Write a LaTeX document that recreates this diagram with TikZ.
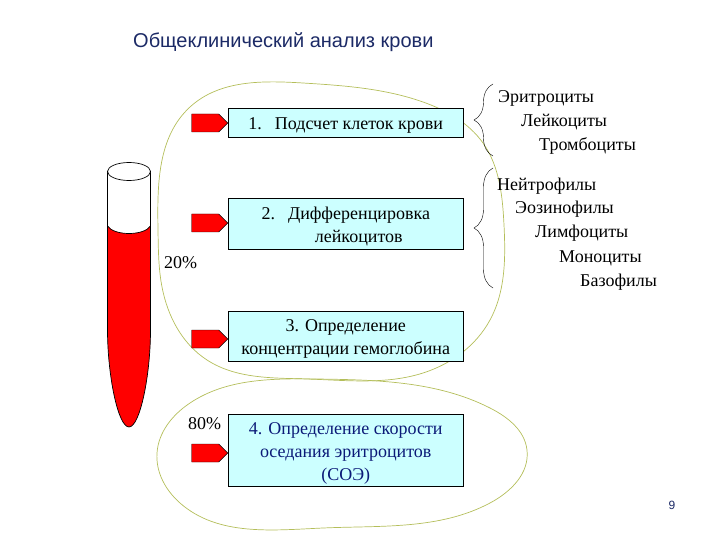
\documentclass[tikz,border=0pt]{standalone}
\usepackage{fontspec}
\setmainfont{Liberation Serif}
\newfontfamily\titlefont{Liberation Sans}
\usetikzlibrary{shapes.arrows,decorations.pathreplacing,hobby}
\definecolor{boxcyan}{HTML}{CCFFFF}
\definecolor{blobgreen}{HTML}{B4BE5A}
\definecolor{bluetext}{HTML}{0B1A78}
\definecolor{titleblue}{HTML}{1C2A66}
\newcommand{\boxstrut}{\rule{0pt}{18pt}}
\tikzset{
	testbox/.style={draw=black,fill=boxcyan,inner sep=0pt,minimum width=234.5pt,align=center,font=\fontsize{18}{23}\selectfont},
	redarrow/.style={draw=black,fill=red,shape=single arrow,single arrow head extend=0pt,inner sep=0pt,minimum height=36pt,minimum width=18pt,anchor=tip},
	blob/.style={draw=blobgreen,line width=0.7pt,use Hobby shortcut,closed=true},
	cellname/.style={anchor=west,inner sep=0pt,yshift=-2pt,font=\fontsize{18}{20}\selectfont},
	bracket/.style={decorate,decoration={brace,amplitude=19pt}}
}
\begin{document}
\begin{tikzpicture}[x=1pt,y=-1pt]
	\useasboundingbox (0,0) rectangle (720,540);

	% Title
	\node[anchor=west,inner sep=0pt,text=titleblue,font=\titlefont\fontsize{20}{22}\selectfont] (title) at (133,42) {Общеклинический анализ крови};

	% Tube
	\fill[red] (107.5,226) .. controls (114,236) and (144,236) .. (150.5,226) -- (150.5,330)
		.. controls (150.5,375) and (140,427) .. (129,427) .. controls (118,427) and (107.5,375) .. (107.5,330) -- cycle;
	\draw[line width=0.7pt] (107.5,171) -- (107.5,330) .. controls (107.5,375) and (118,427) .. (129,427)
		.. controls (140,427) and (150.5,375) .. (150.5,330) -- (150.5,171);
	\draw[line width=0.7pt] (107.5,226) .. controls (114,236) and (144,236) .. (150.5,226);
	\draw[line width=0.7pt,fill=white] (129,171.5) ellipse (21.5pt and 9pt);

	% Green outlines
	\draw[blob] (303,83) .. (423,102) .. (483,143) .. (504,225) .. (490,320) .. (423,373) .. (307,379) .. (207,360) .. (162,287) .. (158,230) .. (190,107);
	\draw[blob] (317,379) .. (490,408) .. (527,450) .. (490,503) .. (323,528) .. (180,503) .. (157,453) .. (190,403);

	% Boxes
	\node[testbox,minimum height=29pt] (count) at (345.75,122.5) {\boxstrut 1.\hspace{13pt}Подсчет клеток крови};
	\node[testbox,minimum height=51pt] (diff) at (345.75,223.5) {\boxstrut 2.\hspace{13pt}Дифференцировка\\\hspace*{26pt}лейкоцитов};
	\node[testbox,minimum height=50pt] (hemo) at (345.75,336) {\boxstrut 3. Определение\\концентрации гемоглобина};
	\node[testbox,minimum height=72pt,text=bluetext] (esr) at (345.75,450) {\boxstrut 4. Определение скорости\\оседания эритроцитов\\(СОЭ)};

	% Arrows
	\node[redarrow] (arrowa) at (228,123) {};
	\node[redarrow] (arrowb) at (228,223) {};
	\node[redarrow] (arrowc) at (228,339) {};
	\node[redarrow] (arrowd) at (228,453) {};

	% Percent
	\node[cellname] (low) at (164,261) {20\%};
	\node[cellname] (high) at (188,422) {80\%};

	% Braces
	\draw[bracket] (493,156) -- (493,84);
	\draw[bracket] (493,288) -- (493,168);

	% Cells
	\node[cellname] (ery) at (498,96) {Эритроциты};
	\node[cellname] (leu) at (521,120) {Лейкоциты};
	\node[cellname] (thr) at (539,144) {Тромбоциты};
	\node[cellname] (neu) at (497,184) {Нейтрофилы};
	\node[cellname] (eos) at (515,207) {Эозинофилы};
	\node[cellname] (lym) at (535,231) {Лимфоциты};
	\node[cellname] (mon) at (559,256) {Моноциты};
	\node[cellname] (bas) at (580,280) {Базофилы};

	% Page number
	\node[inner sep=0pt,text=titleblue,font=\titlefont\fontsize{12}{14}\selectfont] (page) at (672,505) {9};
\end{tikzpicture}
\end{document}
